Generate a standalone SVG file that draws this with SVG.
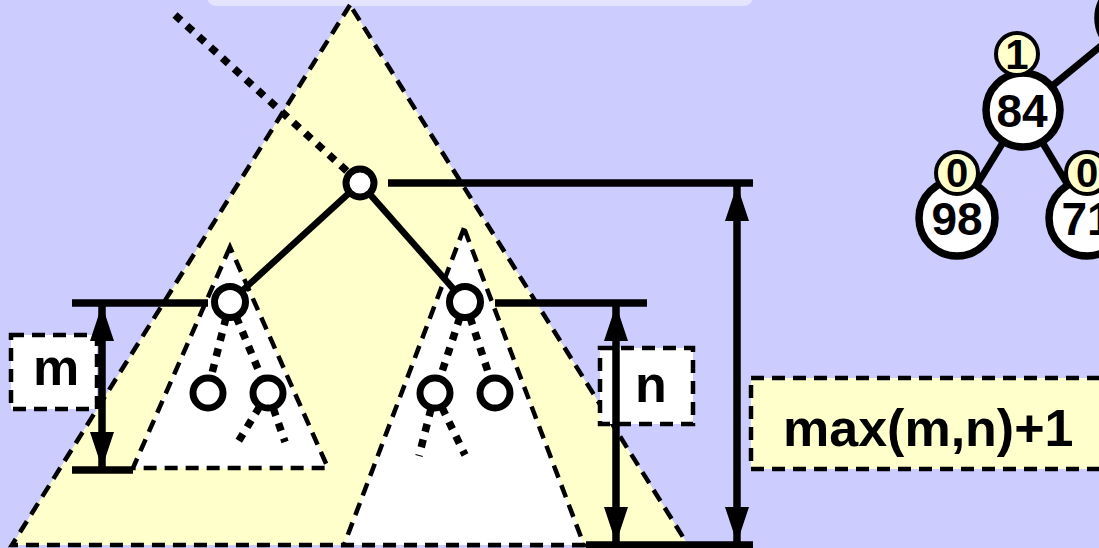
<svg xmlns="http://www.w3.org/2000/svg" width="1099" height="548" viewBox="0 0 1099 548">
<style>
.dash{stroke:#000;stroke-width:4.5;stroke-dasharray:13 8;fill:none}
.dot{stroke:#000;stroke-width:7.5;stroke-dasharray:8 8;fill:none}
.edge{stroke:#000;stroke-width:6.5;fill:none}
.thick{stroke:#000;stroke-width:7.5;fill:none}
.sn{fill:#fff;stroke:#000;stroke-width:7}
.bn{fill:#fff;stroke:#000;stroke-width:7.5}
.badge{fill:#ffffcc;stroke:#000;stroke-width:4}
.t{font-family:"Liberation Sans",Arial,sans-serif;font-weight:bold;fill:#000;text-anchor:middle}
</style>
<defs>
<marker id="arr" viewBox="0 0 36 24" refX="35" refY="12" markerWidth="36" markerHeight="24" markerUnits="userSpaceOnUse" orient="auto-start-reverse">
<path d="M0,0 L36,12 L0,24 Z" fill="#000"/>
</marker>
</defs>
<rect width="1099" height="548" fill="#ccccff"/>
<rect x="207" y="-20" width="546" height="26" rx="9" fill="#e4e4ff"/>

<g id="outer-subtree">
<polygon points="350,5 12,545 688,545" fill="#ffffcc"/>
<polygon points="350,5 12,545 688,545" class="dash"/>
</g>
<g id="left-subtree">
<polygon points="230,247 133,468 328,468" fill="#fff"/>
<polygon points="230,247 133,468 328,468" class="dash"/>
</g>
<g id="right-subtree">
<polygon points="464,228 344,545 584,545" fill="#fff"/>
<polygon points="464,228 344,545 584,545" class="dash"/>
</g>

<g id="label-m">
<rect x="11" y="335" width="86" height="74" class="dash" style="fill:#fff"/>
<text x="56" y="385" class="t" font-size="52">m</text>
</g>
<g id="label-n">
<rect x="600" y="348" width="93" height="76" class="dash" style="fill:#fff"/>
<text x="651" y="402" class="t" font-size="52">n</text>
</g>
<g id="label-max">
<rect x="751" y="378" width="360" height="91" class="dash" style="fill:#ffffcc"/>
<text x="783" y="446" class="t" font-size="52" style="text-anchor:start">max(m,n)+1</text>
</g>

<g id="connectors">
<line x1="175" y1="15" x2="360" y2="183" class="dot"/>
<line x1="230" y1="302" x2="207" y2="393" class="dot"/>
<line x1="230" y1="302" x2="268" y2="393" class="dot"/>
<line x1="268" y1="393" x2="238" y2="442" class="dot"/>
<line x1="268" y1="393" x2="285" y2="442" class="dot"/>
<line x1="465" y1="302" x2="435" y2="393" class="dot"/>
<line x1="465" y1="302" x2="495" y2="393" class="dot"/>
<line x1="435" y1="393" x2="419" y2="456" class="dot"/>
<line x1="435" y1="393" x2="465" y2="455" class="dot"/>
<line x1="360" y1="183" x2="230" y2="302" class="edge"/>
<line x1="360" y1="183" x2="465" y2="302" class="edge"/>
<line x1="388" y1="183" x2="753" y2="183" class="thick"/>
<line x1="72" y1="303" x2="208" y2="303" class="thick"/>
<line x1="72" y1="470" x2="133" y2="470" class="thick"/>
<line x1="495" y1="303" x2="647" y2="303" class="thick"/>
<line x1="586" y1="545" x2="753" y2="545" class="thick"/>
<line x1="102" y1="306" x2="102" y2="467" class="thick" marker-start="url(#arr)" marker-end="url(#arr)"/>
<line x1="616" y1="306" x2="616" y2="542" class="thick" marker-start="url(#arr)" marker-end="url(#arr)"/>
<line x1="737" y1="186" x2="737" y2="542" class="thick" marker-start="url(#arr)" marker-end="url(#arr)"/>
<line x1="1023" y1="110" x2="1135" y2="18" class="edge" style="stroke-width:7"/>
<line x1="1023" y1="110" x2="957" y2="217" class="edge" style="stroke-width:7"/>
<line x1="1023" y1="110" x2="1087" y2="217" class="edge" style="stroke-width:7"/>
</g>

<g id="root"><circle cx="360" cy="183" r="14" class="sn"/></g>
<g id="left-child"><circle cx="230" cy="302" r="15.5" class="sn"/></g>
<g id="right-child"><circle cx="465" cy="302" r="15.5" class="sn"/></g>
<g id="left-gc1"><circle cx="208" cy="393" r="15" class="sn"/></g>
<g id="left-gc2"><circle cx="268" cy="393" r="15" class="sn"/></g>
<g id="right-gc1"><circle cx="435" cy="393" r="15" class="sn"/></g>
<g id="right-gc2"><circle cx="495" cy="393" r="15" class="sn"/></g>

<g id="node-top"><circle cx="1135" cy="18" r="37" class="bn"/></g>
<g id="node-84">
<circle cx="1023" cy="110" r="37" class="bn"/>
<text x="1022" y="127" class="t" font-size="46">84</text>
<circle cx="1017" cy="54" r="21" class="badge"/>
<text x="1017" y="69" class="t" font-size="42">1</text>
</g>
<g id="node-98">
<circle cx="957" cy="218" r="38" class="bn"/>
<text x="957" y="235" class="t" font-size="46">98</text>
<circle cx="957" cy="173" r="21" class="badge"/>
<text x="957" y="187" class="t" font-size="40">0</text>
</g>
<g id="node-71">
<circle cx="1087" cy="218" r="38" class="bn"/>
<text x="1087" y="235" class="t" font-size="46">71</text>
<circle cx="1087" cy="173" r="21" class="badge"/>
<text x="1087" y="187" class="t" font-size="40">0</text>
</g>
</svg>
